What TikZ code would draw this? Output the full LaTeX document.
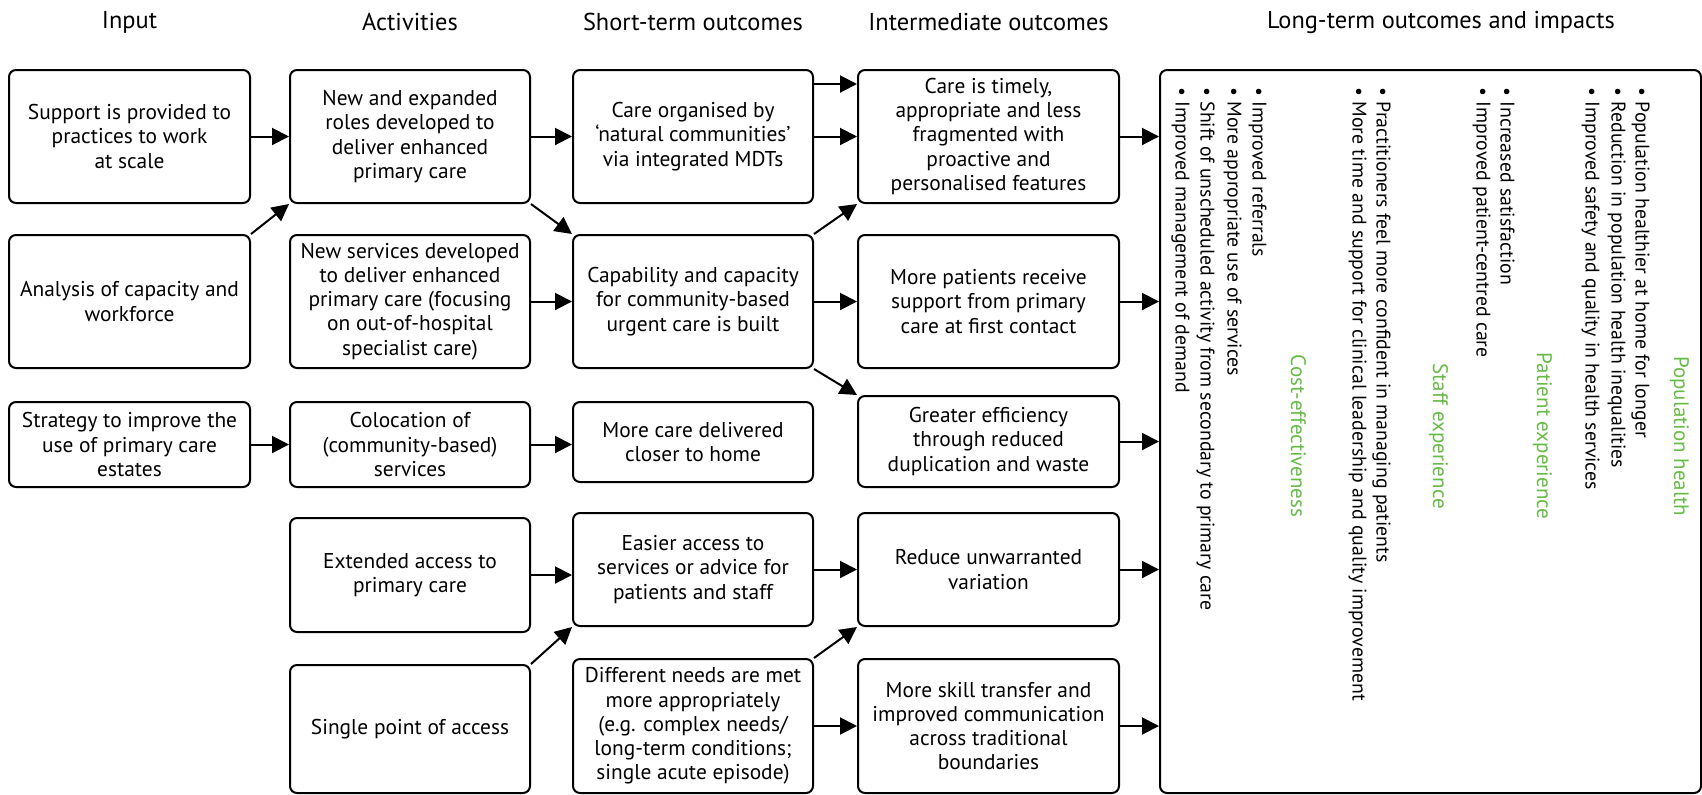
\documentclass[tikz,border=0pt]{standalone}
\usepackage{fontspec}
\setmainfont{PT Sans}
\usetikzlibrary{arrows.meta}
\definecolor{ltgreen}{RGB}{102,187,69}
\tikzset{
  box/.style={draw, line width=1pt, rounded corners=3.5pt, align=center, inner sep=0.5pt, font=\fontsize{10.7}{12.1}\selectfont},
  colA/.style={box, minimum width=120.5pt},
  colB/.style={box, minimum width=120pt},
  colC/.style={box, minimum width=120pt},
  colD/.style={box, minimum width=130.5pt},
  arr/.style={line width=1pt, -{Triangle[length=8.5pt,width=8.5pt]}},
  head/.style={font=\fontsize{12.2}{14}\selectfont, inner sep=0pt},
  item/.style={rotate=-90, anchor=base west, inner sep=0pt, font=\fontsize{9.9}{12}\selectfont},
  grp/.style={rotate=-90, anchor=base, inner sep=0pt, text=ltgreen, font=\fontsize{10.5}{12}\selectfont},
}
\begin{document}
\begin{tikzpicture}[x=0.5pt,y=-0.5pt]
\useasboundingbox (0,0) rectangle (1702,794);
% headers
\node[head] (h1) at (129.5,22) {Input};
\node[head] (h2) at (410,22) {Activities};
\node[head] (h3) at (693,22) {Short-term outcomes};
\node[head] (h4) at (988.5,22) {Intermediate outcomes};
\node[head] (h5) at (1441,22) {Long-term outcomes and impacts};
% column A
\node[colA, minimum height=66.5pt] (A1) at (129.5,136.5) {Support is provided to\\practices to work\\at scale};
\node[colA, minimum height=66.5pt] (A2) at (129.5,301.5) {Analysis of capacity and\\workforce};
\node[colA, minimum height=42.5pt] (A3) at (129.5,444.5) {Strategy to improve the\\use of primary care\\estates};
% column B
\node[colB, minimum height=66.5pt] (B1) at (410,136.5) {New and expanded\\roles developed to\\deliver enhanced\\primary care};
\node[colB, minimum height=66.5pt] (B2) at (410,301.5) {New services developed\\to deliver enhanced\\primary care (focusing\\on out-of-hospital\\specialist care)};
\node[colB, minimum height=42.5pt] (B3) at (410,444.5) {Colocation of\\(community-based)\\services};
\node[colB, minimum height=57pt] (B4) at (410,575) {Extended access to\\primary care};
\node[colB, minimum height=64pt] (B5) at (410,729) {Single point of access};
% column C
\node[colC, minimum height=66.5pt] (C1) at (693,136.5) {Care organised by\\‘natural communities’\\via integrated MDTs};
\node[colC, minimum height=66.5pt] (C2) at (693,301.5) {Capability and capacity\\for community-based\\urgent care is built};
\node[colC, minimum height=40pt] (C3) at (693,442) {More care delivered\\closer to home};
\node[colC, minimum height=56.5pt] (C4) at (693,569.5) {Easier access to\\services or advice for\\patients and staff};
\node[colC, minimum height=67pt] (C5) at (693,726) {Different needs are met\\more appropriately\\(e.g. complex needs/\\long-term conditions;\\single acute episode)};
% column D
\node[colD, minimum height=66.5pt] (D1) at (988.5,136.5) {Care is timely,\\appropriate and less\\fragmented with\\proactive and\\personalised features};
\node[colD, minimum height=66.5pt] (D2) at (988.5,301.5) {More patients receive\\support from primary\\care at first contact};
\node[colD, minimum height=45.5pt] (D3) at (988.5,441.5) {Greater efficiency\\through reduced\\duplication and waste};
\node[colD, minimum height=56.5pt] (D4) at (988.5,569.5) {Reduce unwarranted\\variation};
\node[colD, minimum height=67pt] (D5) at (988.5,726) {More skill transfer and\\improved communication\\across traditional\\boundaries};
% long-term box
\node[draw, line width=1pt, rounded corners=3.5pt, minimum width=270.5pt, minimum height=361.5pt, inner sep=0pt] (E) at (1430.5,431.5) {};
% rotated outcome lists
\node[item] (p1) at (1635.5,87) {\textbullet\ Population healthier at home for longer};
\node[item] (p2) at (1611.5,87) {\textbullet\ Reduction in population health inequalities};
\node[item] (p3) at (1585.5,87) {\textbullet\ Improved safety and quality in health services};
\node[grp] (pg) at (1674,436) {Population health};
\node[item] (q1) at (1500.5,87) {\textbullet\ Increased satisfaction};
\node[item] (q2) at (1476.5,87) {\textbullet\ Improved patient-centred care};
\node[grp] (qg) at (1537,436) {Patient experience};
\node[item] (s1) at (1376.5,87) {\textbullet\ Practitioners feel more confident in managing patients};
\node[item] (s2) at (1352.5,87) {\textbullet\ More time and support for clinical leadership and quality improvement};
\node[grp] (sg) at (1433,436) {Staff experience};
\node[item] (c1) at (1252.5,87) {\textbullet\ Improved referrals};
\node[item] (c2) at (1227.5,87) {\textbullet\ More appropriate use of services};
\node[item] (c3) at (1200.5,87) {\textbullet\ Shift of unscheduled activity from secondary to primary care};
\node[item] (c4) at (1175.5,87) {\textbullet\ Improved management of demand};
\node[grp] (cg) at (1291,436) {Cost-effectiveness};
% arrows A -> B
\draw[arr] (A1.east) -- (B1.west);
\draw[arr] (A2.north east) -- (B1.south west);
\draw[arr] (A3.east) -- (B3.west);
% arrows B -> C
\draw[arr] (B1.east) -- (C1.west);
\draw[arr] (B1.south east) -- (C2.north west);
\draw[arr] (B2.east) -- (C2.west);
\draw[arr] (B3.east) -- (B3.east -| C3.west);
\draw[arr] (B4.east) -- (B4.east -| C4.west);
\draw[arr] (B5.north east) -- (C4.south west);
% arrows C -> D
\draw[arr] ([yshift=-7.5pt]C1.north east) -- ([yshift=-7.5pt]D1.north west);
\draw[arr] (C1.east) -- (D1.west);
\draw[arr] (C2.north east) -- (D1.south west);
\draw[arr] (C2.east) -- (D2.west);
\draw[arr] (C2.south east) -- (D3.north west);
\draw[arr] (C4.east) -- (D4.west);
\draw[arr] (C5.north east) -- (D4.south west);
\draw[arr] (C5.east) -- (D5.west);
% arrows D -> E
\draw[arr] (D1.east) -- (D1.east -| E.west);
\draw[arr] (D2.east) -- (D2.east -| E.west);
\draw[arr] (D3.east) -- (D3.east -| E.west);
\draw[arr] (D4.east) -- (D4.east -| E.west);
\draw[arr] (D5.east) -- (D5.east -| E.west);
\end{tikzpicture}
\end{document}
